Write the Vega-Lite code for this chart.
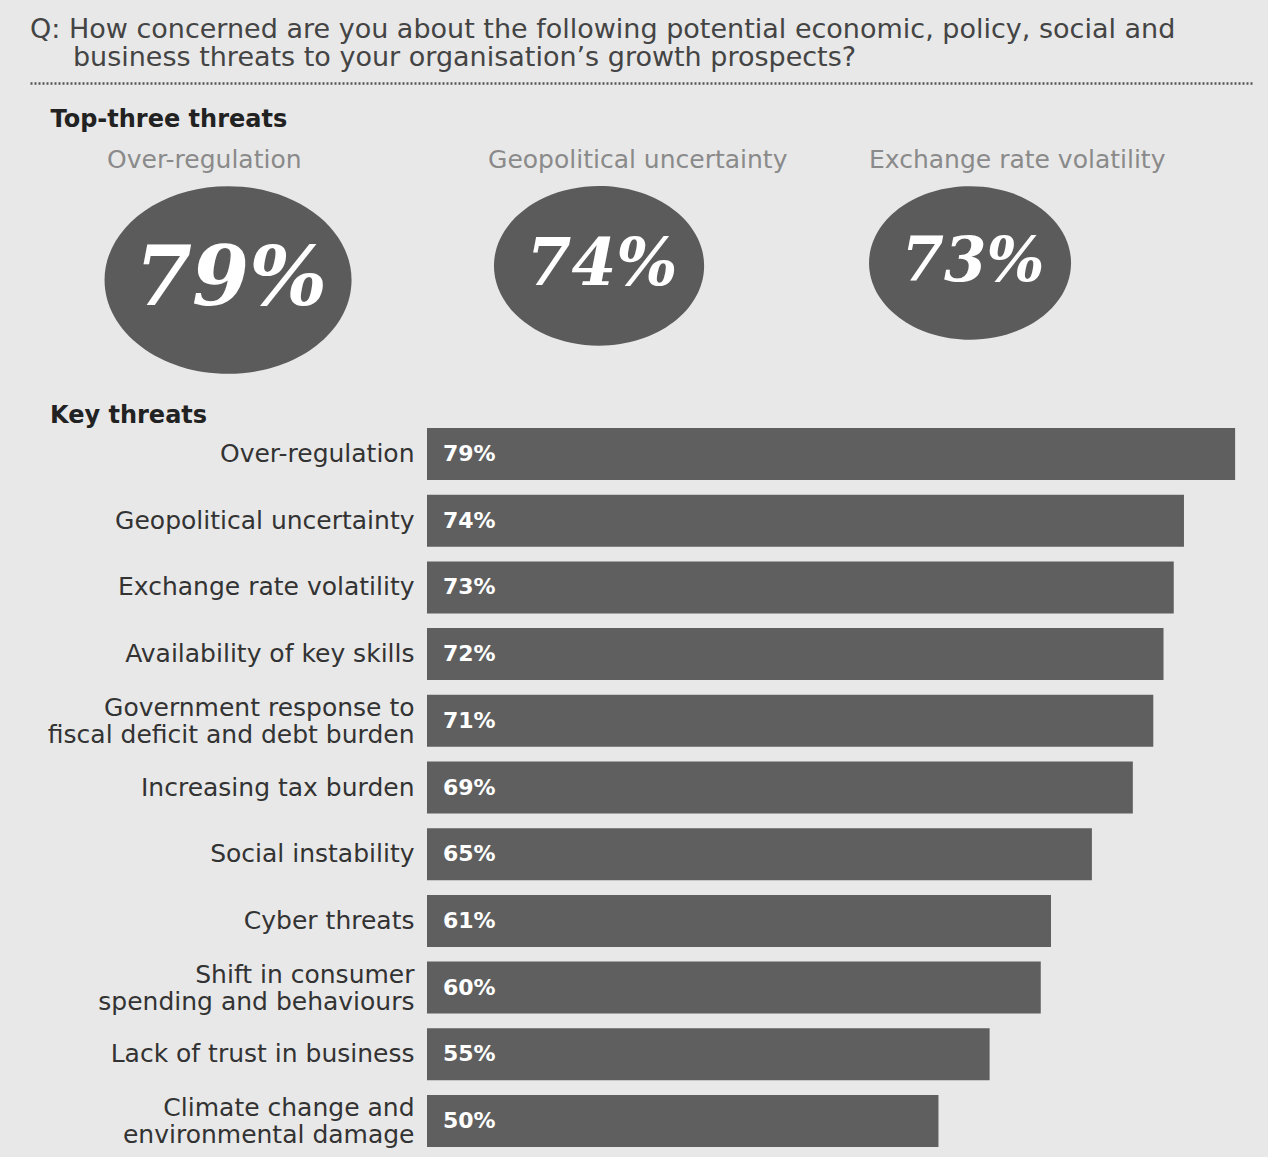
{
  "$schema": "https://vega.github.io/schema/vega-lite/v6.json",
  "background": "#e8e8e8",
  "padding": {"left": 30, "top": 16, "right": 16, "bottom": 9},
  "title": {
    "text": ["Q: How concerned are you about the following potential economic, policy, social and", "\u200b\u00a0\u00a0\u00a0\u00a0\u00a0business threats to your organisation\u2019s growth prospects?"],
    "anchor": "start",
    "frame": "bounds",
    "font": "DejaVu Sans",
    "fontSize": 27,
    "fontWeight": "normal",
    "color": "#444444",
    "lineHeight": 28,
    "offset": 11
  },
  "spacing": 30,
  "config": {"view": {"stroke": null}, "font": "DejaVu Sans"},
  "vconcat": [
    {
      "data": {"values": [
        {"threat": "Over-regulation", "value": 0.79},
        {"threat": "Geopolitical uncertainty", "value": 0.74},
        {"threat": "Exchange rate volatility", "value": 0.73}
      ]},
      "width": 825,
      "height": 154,
      "layer": [
        {
          "mark": {"type": "point", "shape": "M-1,0A1,0.76 0 1,0 1,0A1,0.76 0 1,0 -1,0Z", "filled": true, "fill": "#5b5b5b", "opacity": 1, "strokeWidth": 0},
          "encoding": {
            "x": {"field": "threat", "type": "nominal", "sort": null,
              "scale": {"type": "band", "range": [-397, 825], "paddingInner": 0, "paddingOuter": 0.1469, "align": 0.115},
              "axis": {"orient": "top", "domain": true, "domainDash": [2, 2], "domainColor": "#555555", "domainWidth": 2.5, "ticks": false, "labels": false, "grid": false,
                "title": "Top-three threats", "titleX": -377, "titleY": 36, "titleAlign": "left", "titleBaseline": "middle", "titleAngle": 0,
                "titleFontSize": 24, "titleFontWeight": "bold", "titleColor": "#222222", "titlePadding": 0}},
            "y": {"field": "value", "type": "quantitative", "scale": {"domain": [0.73, 0.79], "range": [180, 197]}, "axis": null},
            "size": {"field": "value", "type": "quantitative", "scale": {"domain": [0.73, 0.79], "range": [40804, 61009]}, "legend": null}
          }
        },
        {
          "mark": {"type": "text", "font": "DejaVu Serif", "fontStyle": "italic", "fontWeight": "bold", "color": "white", "baseline": "middle", "align": "center", "dx": 3},
          "encoding": {
            "x": {"field": "threat", "type": "nominal", "sort": null,
              "scale": {"type": "band", "range": [-397, 825], "paddingInner": 0, "paddingOuter": 0.1469, "align": 0.115}, "axis": null},
            "y": {"field": "value", "type": "quantitative", "scale": {"domain": [0.73, 0.79], "range": [180, 197]}, "axis": null},
            "size": {"field": "value", "type": "quantitative", "scale": {"domain": [0.73, 0.79], "range": [61, 82]}, "legend": null},
            "text": {"field": "value", "type": "quantitative", "format": ".0%"}
          }
        },
        {
          "mark": {"type": "text", "align": "left", "baseline": "middle", "fontSize": 25, "color": "#8a8a8a"},
          "encoding": {
            "x": {"field": "threat", "type": "nominal", "sort": null, "bandPosition": 0,
              "scale": {"type": "band", "range": [-397, 825], "paddingInner": 0, "paddingOuter": 0.1037, "align": 0.975}, "axis": null},
            "text": {"field": "threat", "type": "nominal"}
          }
        }
      ],
      "resolve": {"scale": {"x": "independent", "size": "independent"}, "axis": {"x": "independent"}}
    },
    {
      "data": {"values": [
        {"threat": "Over-regulation", "value": 0.79},
        {"threat": "Geopolitical uncertainty", "value": 0.74},
        {"threat": "Exchange rate volatility", "value": 0.73},
        {"threat": "Availability of key skills", "value": 0.72},
        {"threat": "Government response to|fiscal deficit and debt burden", "value": 0.71},
        {"threat": "Increasing tax burden", "value": 0.69},
        {"threat": "Social instability", "value": 0.65},
        {"threat": "Cyber threats", "value": 0.61},
        {"threat": "Shift in consumer|spending and behaviours", "value": 0.60},
        {"threat": "Lack of trust in business", "value": 0.55},
        {"threat": "Climate change and|environmental damage", "value": 0.50}
      ]},
      "width": 825,
      "height": 719,
      "title": {"text": "Key threats", "anchor": "start", "frame": "bounds", "dx": 20, "fontSize": 24, "fontWeight": "bold", "color": "#222222", "offset": 0},
      "encoding": {
        "y": {"field": "threat", "type": "nominal", "sort": null,
          "scale": {"paddingInner": 0.22, "paddingOuter": 0},
          "axis": {"title": null, "domain": false, "ticks": false, "labelPadding": 13, "labelFontSize": 25, "labelColor": "#333333", "labelLimit": 400, "labelLineHeight": 27,
            "labelOffset": {"condition": {"test": "indexof(datum.label, '|') >= 0", "value": -13}, "value": 0},
            "labelExpr": "split(datum.label, '|')", "minExtent": 397, "maxExtent": 397}}
      },
      "layer": [
        {
          "mark": {"type": "bar", "color": "#5f5f5f"},
          "encoding": {"x": {"field": "value", "type": "quantitative", "scale": {"domain": [0, 0.8065], "nice": false, "zero": true}, "axis": null}}
        },
        {
          "mark": {"type": "text", "align": "left", "baseline": "middle", "dx": 16, "color": "white", "fontWeight": "bold", "fontSize": 22},
          "encoding": {
            "x": {"datum": 0},
            "text": {"field": "value", "type": "quantitative", "format": ".0%"}
          }
        }
      ]
    }
  ]
}
